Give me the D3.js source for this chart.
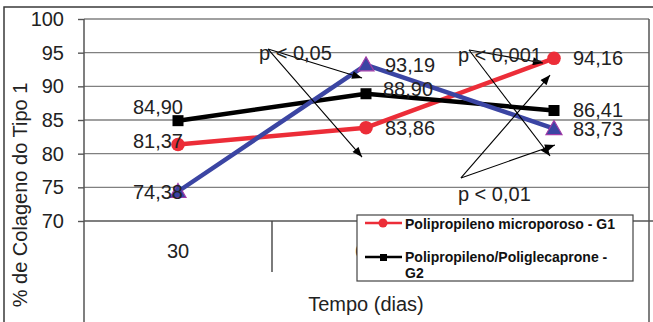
<!DOCTYPE html>
<html><head><meta charset="utf-8">
<script src="https://cdn.jsdelivr.net/npm/d3@7"></script>
<style>
html,body{margin:0;padding:0;background:#fff;}
svg{display:block;font-family:"Liberation Sans",Arial,sans-serif;}
</style></head>
<body><svg id="c" width="653" height="322"></svg>
<script>
// ---- data ----
const categories = ["30", "60", "90"];
const yTicks = [70, 75, 80, 85, 90, 95, 100];
const seriesNames = ["Polipropileno microporoso - G1", "Polipropileno/Poliglecaprone - G2", "G3"];
const g1 = [81.37, 83.86, 94.16];
const g2 = [84.90, 88.90, 86.41];
const g3 = [74.38, 93.19, 83.73];
const pLabels = ["p < 0,05", "p < 0,001", "p < 0,01"];
// annotation geometry in data space: [category index, value]
const pOrigins = [[0.479, 95.54], [1.548, 95.4], [1.505, 76.39]];
const pTargets = [
  [[0.979, 91.24], [0.979, 79.5]],
  [[1.941, 93.47], [1.979, 79.65]],
  [[1.979, 91.68], [2.005, 81.29]]
];
const pTextAt = [[0.431, 93.9], [1.489, 93.6], [1.489, 72.97]];

// ---- layout ----
const svg = d3.select("#c");
const L = 84, R = 649, T = 19, B = 221;
const y = d3.scaleLinear().domain([70, 100]).range([B, T]);
const x = d3.scaleBand().domain(categories).range([L, 648]).paddingInner(0).paddingOuter(0);
const bw = x.bandwidth();
const xc = c => x(c) + bw / 2;
const xi = i => x(categories[0]) + bw / 2 + i * bw;
const fmt = v => d3.format(".2f")(v).replace(".", ",");

svg.append("rect").attr("width", 653).attr("height", 322).attr("fill", "#fff");
// outer frame
svg.append("path").attr("d", "M4,322V7H653").attr("fill", "none").attr("stroke", "#3a3a3a").attr("stroke-width", 1.5);

// gridlines
const gridG = svg.append("g");
gridG.selectAll("line").data(yTicks).join("line")
  .attr("x1", L).attr("x2", d => d === 70 ? 653 : R)
  .attr("y1", d => y(d)).attr("y2", d => y(d))
  .attr("stroke", d => d === 70 ? "#555" : "#808080").attr("stroke-width", 1.4);

// y axis via d3
const yAxis = d3.axisLeft(y).tickValues(yTicks).tickSize(6).tickPadding(14);
const yg = svg.append("g").attr("transform", `translate(${L},0)`).call(yAxis);
yg.select(".domain").remove();
yg.selectAll(".tick line").attr("stroke", "#555").attr("stroke-width", 1.4);
yg.selectAll(".tick text").attr("font-size", 20).attr("fill", "#222")
  .attr("font-family", "Liberation Sans, Arial, sans-serif");

// left axis line & right border
svg.append("line").attr("x1", L).attr("x2", L).attr("y1", T).attr("y2", 322).attr("stroke", "#555").attr("stroke-width", 1.5);
svg.append("line").attr("x1", R).attr("x2", R).attr("y1", T).attr("y2", 322).attr("stroke", "#555").attr("stroke-width", 1.5);

// category separators
svg.append("g").selectAll("line").data(categories.slice(1)).join("line")
  .attr("x1", d => x(d)).attr("x2", d => x(d)).attr("y1", B).attr("y2", 272)
  .attr("stroke", "#444").attr("stroke-width", 1.4);

// category labels
svg.append("g").selectAll("text").data(categories).join("text")
  .attr("x", d => xc(d)).attr("y", 258).attr("text-anchor", "middle")
  .attr("font-size", 20).attr("fill", "#222").text(d => d);

// axis titles
svg.append("text").attr("x", 366).attr("y", 311).attr("text-anchor", "middle")
  .attr("font-size", 20).attr("fill", "#222").text("Tempo (dias)");
svg.append("text").attr("transform", "translate(27,195) rotate(-90)").attr("text-anchor", "middle")
  .attr("font-size", 20).attr("fill", "#222").text("% de Colageno do Tipo 1");

// series
const series = [
  {vals: g1, color: "#ec2d38", marker: "circle", dys: [3.3, 7.3, 6.7], dxs: [5, 19, 19]},
  {vals: g2, color: "#000", marker: "square", dys: [-6.7, 2.3, 6.5], dxs: [5, 17, 19]},
  {vals: g3, color: "#3b45a3", marker: "triangle", dys: [7, 7, 7.4], dxs: [5, 19, 19]}
];
const line = d3.line().x((d, i) => xc(categories[i])).y(d => y(d));
series.forEach(s => {
  svg.append("path").datum(s.vals).attr("d", line).attr("fill", "none")
    .attr("stroke", s.color).attr("stroke-width", 4.5).attr("stroke-linejoin", "round");
});
series.forEach(s => {
  const g = svg.append("g");
  s.vals.forEach((v, i) => {
    const cx = xc(categories[i]), cy = y(v);
    if (s.marker === "circle") {
      g.append("circle").attr("cx", cx).attr("cy", cy).attr("r", 6.8).attr("fill", s.color);
    } else if (s.marker === "square") {
      g.append("rect").attr("x", cx - 5.5).attr("y", cy - 5.5).attr("width", 11).attr("height", 11).attr("fill", "#000");
    } else {
      g.append("path").attr("d", `M${cx},${cy - 8}L${cx + 8},${cy + 6}L${cx - 8},${cy + 6}Z`)
        .attr("fill", s.color).attr("stroke", "#a23ca8").attr("stroke-width", 1.2);
    }
  });
});
// data labels
series.forEach(s => {
  s.vals.forEach((v, i) => {
    const cx = xc(categories[i]), cy = y(v);
    svg.append("text").attr("x", i === 0 ? cx + s.dxs[i] : cx + s.dxs[i]).attr("y", cy + s.dys[i])
      .attr("text-anchor", i === 0 ? "end" : "start")
      .attr("font-size", 20).attr("fill", "#222").text(fmt(v));
  });
});

// annotation arrows
const defs = svg.append("defs");
defs.append("marker").attr("id", "ah").attr("viewBox", "0 0 10 8").attr("refX", 10).attr("refY", 4)
  .attr("markerWidth", 11).attr("markerHeight", 8).attr("markerUnits", "userSpaceOnUse").attr("orient", "auto")
  .append("path").attr("d", "M0,0L10,4L0,8Z").attr("fill", "#000");
pOrigins.forEach((o, k) => {
  pTargets[k].forEach(t => {
    svg.append("line").attr("x1", xi(o[0])).attr("y1", y(o[1])).attr("x2", xi(t[0])).attr("y2", y(t[1]))
      .attr("stroke", "#000").attr("stroke-width", 1.1).attr("marker-end", "url(#ah)");
  });
  svg.append("text").attr("x", xi(pTextAt[k][0])).attr("y", y(pTextAt[k][1]))
    .attr("font-size", 20).attr("fill", "#222").text(pLabels[k]);
});

// legend (clipped box)
const lg = svg.append("g");
lg.append("rect").attr("x", 357).attr("y", 215).attr("width", 276).attr("height", 66)
  .attr("fill", "#fff").attr("stroke", "#444").attr("stroke-width", 1.2);
lg.append("line").attr("x1", 365).attr("x2", 402).attr("y1", 223).attr("y2", 223).attr("stroke", series[0].color).attr("stroke-width", 2.5);
lg.append("circle").attr("cx", 383).attr("cy", 223).attr("r", 4.5).attr("fill", series[0].color);
lg.append("text").attr("x", 405).attr("y", 229).attr("font-size", 14).attr("font-weight", "bold").attr("fill", "#111").text(seriesNames[0]);
lg.append("line").attr("x1", 365).attr("x2", 402).attr("y1", 257).attr("y2", 257).attr("stroke", "#000").attr("stroke-width", 2.5);
lg.append("rect").attr("x", 380).attr("y", 254).attr("width", 7).attr("height", 7).attr("fill", "#000");
const nm2 = seriesNames[1].split(" - ");
lg.append("text").attr("x", 405).attr("y", 262).attr("font-size", 14).attr("font-weight", "bold").attr("fill", "#111").text(nm2[0] + " -");
lg.append("text").attr("x", 405).attr("y", 278).attr("font-size", 14).attr("font-weight", "bold").attr("fill", "#111").text(nm2[1]);
</script></body></html>
